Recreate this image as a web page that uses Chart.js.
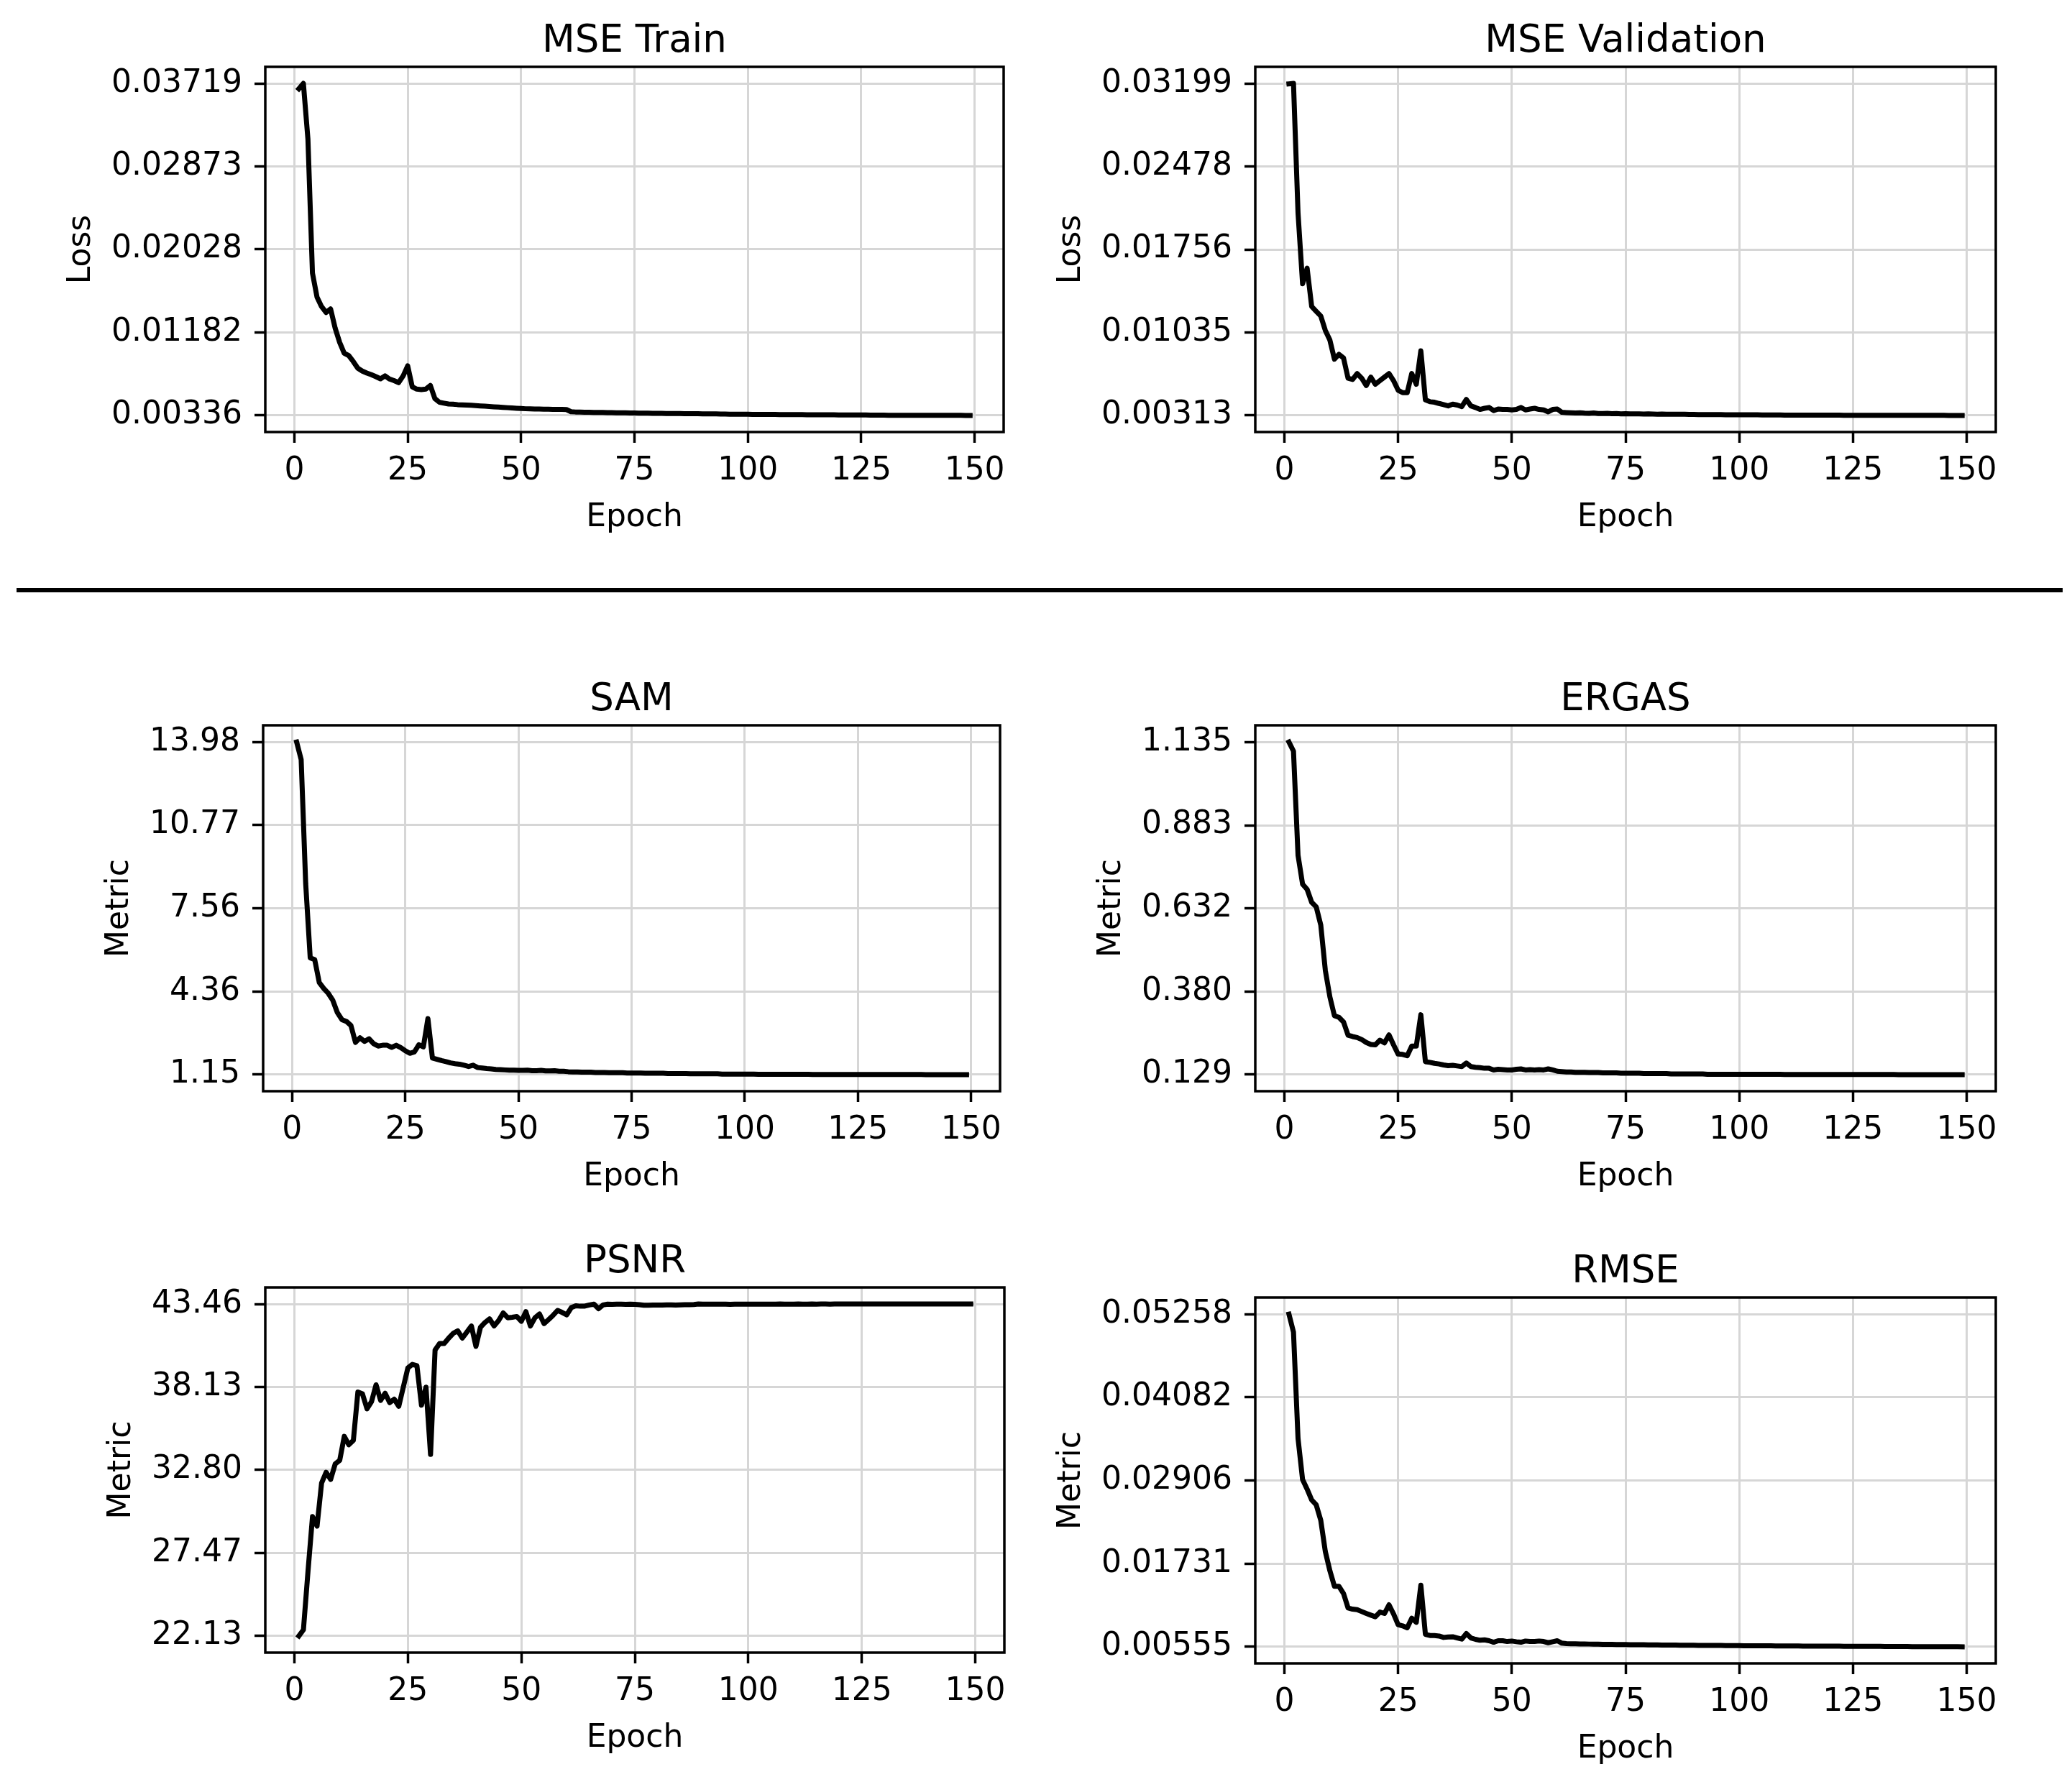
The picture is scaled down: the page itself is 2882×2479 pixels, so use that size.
<!DOCTYPE html>
<html>
<head>
<meta charset="utf-8">
<title>Training curves</title>
<script src="https://cdn.jsdelivr.net/npm/chart.js@4.4.1/dist/chart.umd.min.js"></script>
<style>
  html, body { margin: 0; padding: 0; background: #fff; }
  #page { position: relative; width: 2882px; height: 2479px; overflow: hidden; background: #fff; }
  #page canvas { position: absolute; }
  #divider { position: absolute; left: 23px; top: 818px; width: 2846px; height: 6px; background: #000; }
</style>
</head>
<body>
<div id="page"><div id="divider"></div></div>
<script>
// epochs 1..149 (x categories)
const epochs = Array.from({ length: 149 }, (_, i) => i + 1);
const epochTicks = [0, 25, 50, 75, 100, 125, 150];

// y tick labels (min .. max of each series)
const mseTrainTicks = [0.00336, 0.01182, 0.02028, 0.02873, 0.03719];
const mseValTicks = [0.00313, 0.01035, 0.01756, 0.02478, 0.03199];
const samTicks = [1.15, 4.36, 7.56, 10.77, 13.98];
const ergasTicks = [0.129, 0.380, 0.632, 0.883, 1.135];
const psnrTicks = [22.13, 27.47, 32.80, 38.13, 43.46];
const rmseTicks = [0.00555, 0.01731, 0.02906, 0.04082, 0.05258];

// values, one per epoch
const mseTrain = [
  0.03665, 0.037191, 0.03153, 0.01787, 0.01543, 0.01446, 0.01385, 0.01421, 0.01226, 0.01080,
  0.00970, 0.00946, 0.00885, 0.00817, 0.00788, 0.00768, 0.00751, 0.00731, 0.00709, 0.00739,
  0.00707, 0.00690, 0.00670, 0.00739, 0.00841, 0.00628, 0.00604, 0.00599, 0.00604, 0.00641,
  0.00507, 0.00470, 0.00461, 0.00453, 0.00451, 0.00446, 0.00444, 0.00441, 0.00439, 0.00436,
  0.00433, 0.00430, 0.00427, 0.00424, 0.00421, 0.00418, 0.00415, 0.00412, 0.00409, 0.00406,
  0.00404, 0.00403, 0.00402, 0.00401, 0.00400, 0.00399, 0.00398, 0.00398, 0.00397, 0.00396,
  0.00374, 0.00371, 0.00370, 0.00369, 0.00368, 0.00367, 0.00366, 0.00366, 0.00365, 0.00364,
  0.00363, 0.00363, 0.00362, 0.00361, 0.00361, 0.00360, 0.00359, 0.00359, 0.00358, 0.00357,
  0.00357, 0.00356, 0.00356, 0.00355, 0.00355, 0.00354, 0.00354, 0.00353, 0.00353, 0.00352,
  0.00352, 0.00351, 0.00351, 0.00350, 0.00350, 0.00349, 0.00349, 0.00349, 0.00348, 0.00348,
  0.00347, 0.00347, 0.00347, 0.00346, 0.00346, 0.00346, 0.00345, 0.00345, 0.00345, 0.00344,
  0.00344, 0.00344, 0.00343, 0.00343, 0.00343, 0.00342, 0.00342, 0.00342, 0.00342, 0.00341,
  0.00341, 0.00341, 0.00340, 0.00340, 0.00340, 0.00340, 0.00339, 0.00339, 0.00339, 0.00339,
  0.00338, 0.00338, 0.00338, 0.00338, 0.00338, 0.00337, 0.00337, 0.00337, 0.00337, 0.00337,
  0.00337, 0.003366, 0.003365, 0.003365, 0.003364, 0.003364, 0.003363, 0.003362, 0.003362
];

const mseVal = [
  0.03195, 0.031991, 0.02071, 0.01457, 0.01593, 0.01260, 0.01218, 0.01177, 0.01052, 0.00968,
  0.00802, 0.00844, 0.00812, 0.00636, 0.00625, 0.00677, 0.00636, 0.00573, 0.00646, 0.00584,
  0.00615, 0.00646, 0.00677, 0.00615, 0.00532, 0.00511, 0.00511, 0.00677, 0.00584, 0.00875,
  0.00448, 0.00432, 0.00428, 0.00417, 0.00407, 0.00396, 0.00411, 0.00403, 0.00390, 0.00452,
  0.00396, 0.00382, 0.00365, 0.00375, 0.00382, 0.00355, 0.00369, 0.00365, 0.00365, 0.00361,
  0.00365, 0.00382, 0.00361, 0.00369, 0.00375, 0.00365, 0.00361, 0.00344, 0.00365, 0.00369,
  0.00340, 0.00338, 0.00336, 0.00334, 0.00336, 0.00333, 0.00331, 0.00334, 0.00330, 0.00329,
  0.00331, 0.00328, 0.00329, 0.00327, 0.00328, 0.00326, 0.00327, 0.00326, 0.00325, 0.00326,
  0.00325, 0.00324, 0.00325, 0.00324, 0.00323, 0.00324, 0.00323, 0.00324, 0.00322, 0.00322,
  0.00321, 0.00321, 0.00321, 0.00320, 0.00320, 0.00320, 0.00319, 0.00319, 0.00319, 0.00319,
  0.00318, 0.00318, 0.00318, 0.00318, 0.00317, 0.00317, 0.00317, 0.00317, 0.00317, 0.00316,
  0.00316, 0.00316, 0.00316, 0.00316, 0.00316, 0.00315, 0.00315, 0.00315, 0.00315, 0.00315,
  0.00315, 0.00315, 0.00314, 0.00314, 0.00314, 0.00314, 0.00314, 0.00314, 0.00314, 0.00314,
  0.00314, 0.003138, 0.003138, 0.003137, 0.003137, 0.003136, 0.003136, 0.003135, 0.003135, 0.003134,
  0.003134, 0.003134, 0.003133, 0.003133, 0.003133, 0.003132, 0.003132, 0.003131, 0.003131
];

const sam = [
  13.978, 13.30, 8.52, 5.65, 5.58, 4.70, 4.47, 4.28, 4.01, 3.54,
  3.27, 3.20, 3.04, 2.39, 2.57, 2.43, 2.53, 2.34, 2.25, 2.28,
  2.28, 2.20, 2.28, 2.19, 2.07, 1.97, 2.02, 2.30, 2.22, 3.31,
  1.79, 1.74, 1.69, 1.65, 1.60, 1.57, 1.55, 1.51, 1.46, 1.51,
  1.42, 1.40, 1.38, 1.37, 1.35, 1.34, 1.33, 1.32, 1.32, 1.31,
  1.31, 1.32, 1.30, 1.30, 1.31, 1.29, 1.29, 1.30, 1.28, 1.28,
  1.26, 1.25, 1.25, 1.24, 1.24, 1.24, 1.23, 1.23, 1.23, 1.22,
  1.22, 1.22, 1.22, 1.21, 1.21, 1.21, 1.21, 1.20, 1.20, 1.20,
  1.20, 1.20, 1.19, 1.19, 1.19, 1.19, 1.19, 1.18, 1.18, 1.18,
  1.18, 1.18, 1.18, 1.18, 1.17, 1.17, 1.17, 1.17, 1.17, 1.17,
  1.17, 1.17, 1.16, 1.16, 1.16, 1.16, 1.16, 1.16, 1.16, 1.16,
  1.16, 1.16, 1.16, 1.16, 1.155, 1.155, 1.155, 1.155, 1.155, 1.155,
  1.155, 1.155, 1.153, 1.153, 1.153, 1.153, 1.152, 1.152, 1.152, 1.152,
  1.151, 1.151, 1.151, 1.151, 1.150, 1.150, 1.150, 1.150, 1.150, 1.149,
  1.149, 1.149, 1.149, 1.149, 1.148, 1.148, 1.148, 1.148, 1.148
];

const ergas = [
  1.1348, 1.107, 0.792, 0.705, 0.689, 0.650, 0.636, 0.581, 0.444, 0.364,
  0.307, 0.302, 0.288, 0.248, 0.244, 0.241, 0.235, 0.226, 0.220, 0.219,
  0.233, 0.225, 0.249, 0.219, 0.191, 0.190, 0.186, 0.215, 0.215, 0.310,
  0.168, 0.166, 0.163, 0.161, 0.158, 0.156, 0.157, 0.155, 0.153, 0.164,
  0.153, 0.151, 0.150, 0.148, 0.148, 0.143, 0.145, 0.144, 0.143, 0.143,
  0.145, 0.146, 0.143, 0.144, 0.143, 0.144, 0.143, 0.146, 0.143, 0.139,
  0.138, 0.137, 0.137, 0.136, 0.136, 0.136, 0.135, 0.135, 0.135, 0.134,
  0.134, 0.134, 0.134, 0.133, 0.133, 0.133, 0.133, 0.133, 0.132, 0.132,
  0.132, 0.132, 0.132, 0.132, 0.131, 0.131, 0.131, 0.131, 0.131, 0.131,
  0.131, 0.131, 0.130, 0.130, 0.130, 0.130, 0.130, 0.130, 0.130, 0.130,
  0.130, 0.130, 0.1298, 0.1298, 0.1297, 0.1297, 0.1296, 0.1296, 0.1296, 0.1295,
  0.1295, 0.1295, 0.1294, 0.1294, 0.1294, 0.1293, 0.1293, 0.1293, 0.1293, 0.1292,
  0.1292, 0.1292, 0.1292, 0.1291, 0.1291, 0.1291, 0.1291, 0.1291, 0.1290, 0.1290,
  0.1290, 0.1290, 0.1290, 0.1290, 0.1289, 0.1289, 0.1289, 0.1289, 0.1289, 0.1289,
  0.1289, 0.1289, 0.1288, 0.1288, 0.1288, 0.1288, 0.1288, 0.1288, 0.1288
];

const psnr = [
  22.134, 22.53, 26.26, 29.80, 29.19, 31.96, 32.65, 32.19, 33.19, 33.42,
  34.96, 34.42, 34.70, 37.81, 37.69, 36.73, 37.19, 38.27, 37.27, 37.73,
  37.12, 37.35, 36.89, 38.12, 39.35, 39.58, 39.50, 36.96, 38.12, 33.80,
  40.51, 40.92, 40.92, 41.27, 41.58, 41.74, 41.27, 41.66, 42.05, 40.74,
  41.97, 42.28, 42.51, 42.05, 42.40, 42.89, 42.58, 42.61, 42.66, 42.35,
  42.97, 42.05, 42.58, 42.82, 42.20, 42.46, 42.74, 43.05, 42.92, 42.77,
  43.23, 43.35, 43.32, 43.33, 43.40, 43.45, 43.16, 43.40, 43.45, 43.44,
  43.45, 43.45, 43.44, 43.45, 43.44, 43.42, 43.38, 43.38, 43.39, 43.40,
  43.40, 43.41, 43.41, 43.40, 43.41, 43.42, 43.42, 43.43, 43.46, 43.45,
  43.45, 43.45, 43.45, 43.45, 43.45, 43.44, 43.45, 43.45, 43.45, 43.45,
  43.45, 43.45, 43.45, 43.45, 43.45, 43.45, 43.46, 43.45, 43.45, 43.45,
  43.46, 43.45, 43.45, 43.46, 43.45, 43.46, 43.46, 43.45, 43.46, 43.46,
  43.46, 43.46, 43.46, 43.46, 43.46, 43.46, 43.46, 43.46, 43.46, 43.46,
  43.46, 43.46, 43.46, 43.46, 43.46, 43.46, 43.46, 43.46, 43.46, 43.462,
  43.46, 43.46, 43.46, 43.46, 43.46, 43.46, 43.46, 43.46, 43.46
];

const rmse = [
  0.052578, 0.05004, 0.03500, 0.02918, 0.02783, 0.02630, 0.02562, 0.02342, 0.01901, 0.01630,
  0.01409, 0.01409, 0.01308, 0.01104, 0.01087, 0.01080, 0.01053, 0.01026, 0.01002, 0.00979,
  0.01046, 0.01026, 0.01148, 0.01019, 0.00867, 0.00850, 0.00823, 0.00958, 0.00901, 0.01426,
  0.00731, 0.00714, 0.00714, 0.00707, 0.00687, 0.00694, 0.00697, 0.00680, 0.00663, 0.00741,
  0.00680, 0.00660, 0.00647, 0.00653, 0.00640, 0.00619, 0.00640, 0.00640, 0.00629, 0.00636,
  0.00626, 0.00619, 0.00636, 0.00629, 0.00629, 0.00636, 0.00629, 0.00612, 0.00626, 0.00640,
  0.00606, 0.00600, 0.00598, 0.00597, 0.00595, 0.00594, 0.00593, 0.00592, 0.00591, 0.00590,
  0.00589, 0.00588, 0.00587, 0.00586, 0.00586, 0.00585, 0.00584, 0.00583, 0.00583, 0.00582,
  0.00581, 0.00581, 0.00580, 0.00579, 0.00579, 0.00578, 0.00577, 0.00577, 0.00576, 0.00576,
  0.00575, 0.00575, 0.00574, 0.00574, 0.00573, 0.00573, 0.00572, 0.00572, 0.00571, 0.00571,
  0.00570, 0.00570, 0.00569, 0.00569, 0.00569, 0.00568, 0.00568, 0.00567, 0.00567, 0.00567,
  0.00566, 0.00566, 0.00566, 0.00565, 0.00565, 0.00565, 0.00564, 0.00564, 0.00564, 0.00563,
  0.00563, 0.00563, 0.00562, 0.00562, 0.00562, 0.00561, 0.00561, 0.00561, 0.00560, 0.00560,
  0.00560, 0.00559, 0.00559, 0.00559, 0.00558, 0.00558, 0.00558, 0.00557, 0.00557, 0.00557,
  0.00556, 0.00556, 0.00556, 0.00556, 0.00555, 0.00555, 0.00555, 0.005549, 0.005548
];

// layout: plot box [left, top, width, height] in page pixels
const panels = [
  { title: 'MSE Train', ylabel: 'Loss', values: mseTrain, ticks: mseTrainTicks, digits: 5, box: [369, 93, 1027, 508] },
  { title: 'MSE Validation', ylabel: 'Loss', values: mseVal, ticks: mseValTicks, digits: 5, box: [1746, 93, 1030, 508] },
  { title: 'SAM', ylabel: 'Metric', values: sam, ticks: samTicks, digits: 2, box: [366, 1009, 1025, 509] },
  { title: 'ERGAS', ylabel: 'Metric', values: ergas, ticks: ergasTicks, digits: 3, box: [1746, 1009, 1030, 509] },
  { title: 'PSNR', ylabel: 'Metric', values: psnr, ticks: psnrTicks, digits: 2, box: [369, 1791, 1028, 508] },
  { title: 'RMSE', ylabel: 'Metric', values: rmse, ticks: rmseTicks, digits: 5, box: [1746, 1805, 1030, 509] }
];

const FONT = '"DejaVu Sans"';
const PAD_L = 365, PAD_T = 90, PAD_R = 60, PAD_B = 170;
const GRID = '#d6d6d6';

Chart.defaults.font.family = FONT;
Chart.defaults.color = '#000';

// frame, title and axis labels, placed like matplotlib does
const panelDecor = {
  id: 'panelDecor',
  afterDraw(chart, args, opts) {
    const { ctx, chartArea: a } = chart;
    const cx = (a.left + a.right) / 2;
    ctx.save();
    ctx.strokeStyle = '#000';
    ctx.lineWidth = 3.5;
    ctx.strokeRect(a.left, a.top, a.right - a.left, a.bottom - a.top);

    ctx.fillStyle = '#000';
    ctx.textAlign = 'center';
    ctx.textBaseline = 'alphabetic';
    ctx.font = '53px ' + FONT;
    ctx.fillText(opts.title, cx, a.top - 21);

    ctx.font = '44px ' + FONT;
    ctx.fillText('Epoch', cx, a.bottom + 131);

    const widest = Math.max(...chart.scales.y.ticks.map(t => ctx.measureText(t.label).width));
    ctx.translate(a.left - 32 - widest - 30, (a.top + a.bottom) / 2);
    ctx.rotate(-Math.PI / 2);
    ctx.fillText(opts.ylabel, 0, 0);
    ctx.restore();
  }
};

const page = document.getElementById('page');

panels.forEach(p => {
  const [left, top, w, h] = p.box;
  const canvas = document.createElement('canvas');
  canvas.width = PAD_L + w + PAD_R;
  canvas.height = PAD_T + h + PAD_B;
  canvas.style.left = (left - PAD_L) + 'px';
  canvas.style.top = (top - PAD_T) + 'px';
  page.appendChild(canvas);

  const lo = p.ticks[0], hi = p.ticks[p.ticks.length - 1];
  const margin = (hi - lo) * 0.05;

  new Chart(canvas, {
    type: 'line',
    data: {
      datasets: [{
        data: epochs.map((e, i) => ({ x: e, y: p.values[i] })),
        borderColor: '#000',
        borderWidth: 7,
        borderJoinStyle: 'round',
        borderCapStyle: 'square',
        pointRadius: 0,
        tension: 0,
        fill: false
      }]
    },
    options: {
      responsive: false,
      animation: false,
      devicePixelRatio: 1,
      layout: { padding: { left: 0, top: PAD_T, right: PAD_R, bottom: 0 } },
      plugins: {
        legend: { display: false },
        tooltip: { enabled: false },
        panelDecor: { title: p.title, ylabel: p.ylabel }
      },
      scales: {
        x: {
          type: 'linear',
          min: -6.4,
          max: 156.4,
          afterBuildTicks: s => { s.ticks = epochTicks.map(v => ({ value: v })); },
          afterFit: s => { s.height = PAD_B; s.paddingLeft = 0; s.paddingRight = 0; },
          border: { display: false },
          grid: { color: GRID, lineWidth: 3, tickColor: '#000', tickWidth: 3.5, tickLength: 15 },
          ticks: {
            font: { size: 44 }, color: '#000', padding: 13,
            maxRotation: 0, autoSkip: false, callback: v => String(v)
          }
        },
        y: {
          type: 'linear',
          min: lo - margin,
          max: hi + margin,
          afterBuildTicks: s => { s.ticks = p.ticks.map(v => ({ value: v })); },
          afterFit: s => { s.width = PAD_L; s.paddingTop = 0; s.paddingBottom = 0; },
          border: { display: false },
          grid: { color: GRID, lineWidth: 3, tickColor: '#000', tickWidth: 3.5, tickLength: 15 },
          ticks: {
            font: { size: 44 }, color: '#000', padding: 17,
            autoSkip: false, callback: v => v.toFixed(p.digits)
          }
        }
      }
    },
    plugins: [panelDecor]
  });
});
</script>
</body>
</html>
